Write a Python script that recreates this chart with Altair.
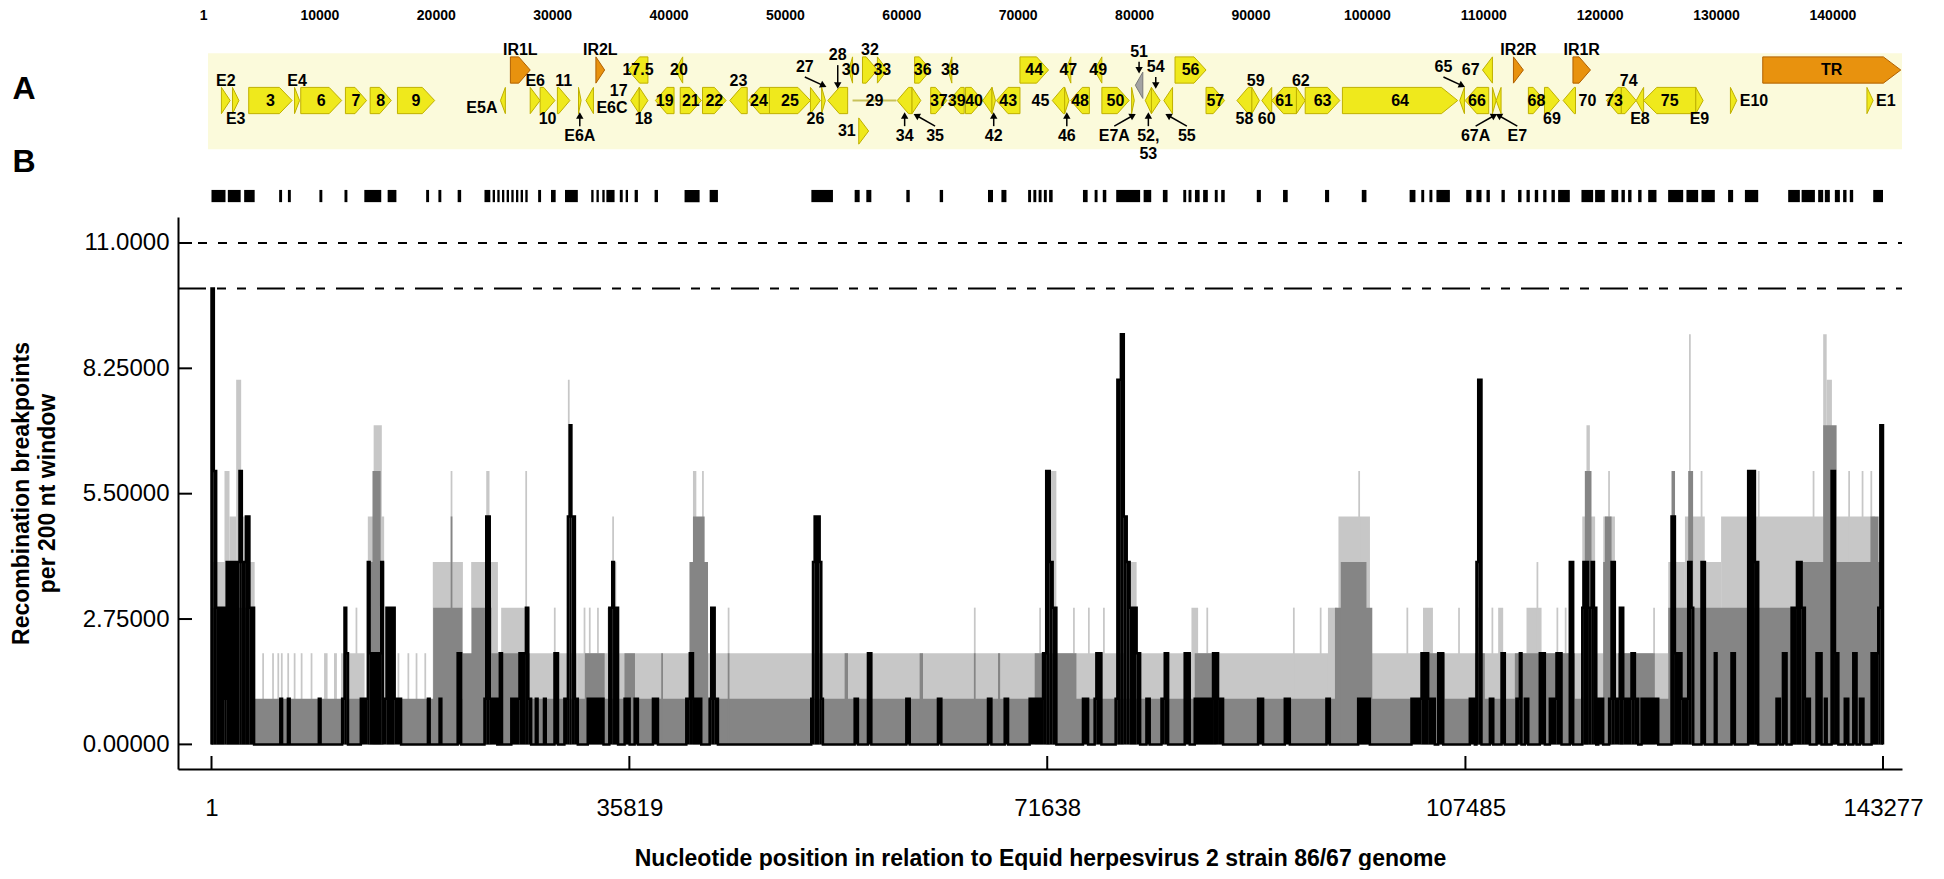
import math
import altair as alt
import pandas as pd

# ------------------------------------------------------------------ data
GENOME_LEN = 143277
TOP_TICKS = [1, 10000, 20000, 30000, 40000, 50000, 60000, 70000, 80000,
             90000, 100000, 110000, 120000, 130000, 140000]
X_TICKS = [1, 35819, 71638, 107485, 143277]
Y_TICKS = [0, 2.75, 5.5, 8.25, 11]
HOTSPOT_99 = 11.0
HOTSPOT_95 = 10.0
X_TITLE = "Nucleotide position in relation to Equid herpesvirus 2 strain 86/67 genome"
Y_TITLE = ["Recombination breakpoints", "per 200 nt window"]

# genes: (name, start, end, strand, kind, label placement)
GENES_UPPER = [
    ("IR1L", 25620, 27320, 1, "ir", "above"),
    ("IR2L", 32950, 33700, 1, "ir", "above"),
    ("17.5", 35710, 37410, -1, "orf", "in"),
    ("20", 39750, 40390, -1, "orf", "in"),
    ("30", 54630, 54950, -1, "orf", "in"),
    ("32", 55800, 57080, 1, "orf", "above"),
    ("33", 57080, 57930, 1, "orf", "in"),
    ("36", 60270, 61650, 1, "orf", "in"),
    ("38", 63140, 63460, -1, "orf", "in"),
    ("44", 69300, 71750, 1, "orf", "in"),
    ("47", 73230, 73660, -1, "orf", "in"),
    ("49", 75680, 76320, -1, "orf", "in"),
    ("56", 82590, 85250, 1, "orf", "in"),
    ("67", 108950, 109800, -1, "orf", "left"),
    ("IR2R", 111600, 112450, 1, "ir", "above"),
    ("IR1R", 116700, 118200, 1, "ir", "above"),
    ("TR", 132970, 144800, 1, "ir", "in"),
]
GENES_BETWEEN = [
    ("51", 79190, 79830, -1, "grey", "above_arrow"),
]
GENES_MIDDLE = [
    ("E2", 850, 1600, 1, "orf", "above"),
    ("E3", 1800, 2350, 1, "orf", "below"),
    ("3", 3190, 6910, 1, "orf", "in"),
    ("E4", 7120, 7550, 1, "orf", "above"),
    ("6", 7650, 11160, 1, "orf", "in"),
    ("7", 11480, 13290, 1, "orf", "in"),
    ("8", 13600, 15410, 1, "orf", "in"),
    ("9", 15940, 19130, 1, "orf", "in"),
    ("E5A", 24770, 25190, -1, "orf", "left_"),
    ("E6", 27320, 28170, 1, "orf", "above"),
    ("10", 28170, 29440, 1, "orf", "below"),
    ("11", 29650, 30720, 1, "orf", "above"),
    ("E6A", 31460, 31680, 1, "orf", "below_arrow"),
    ("E6C", 32100, 32740, -1, "orf", "right_"),
    ("17", 35930, 36670, -1, "orf", "left^"),
    ("18", 36670, 37410, 1, "orf", "below"),
    ("19", 38050, 39650, -1, "orf", "in"),
    ("21", 40180, 41990, 1, "orf", "in"),
    ("22", 42090, 44110, 1, "orf", "in"),
    ("23", 44430, 45920, -1, "orf", "above"),
    ("24", 46020, 47830, -1, "orf", "in"),
    ("25", 47830, 51340, 1, "orf", "in"),
    ("26", 51340, 52190, 1, "orf", "below"),
    ("27", 52300, 52620, 1, "orf", "above_arrow<"),
    ("28", 52830, 54530, -1, "orf", "above_arrow^"),
    ("29", 54950, 58700, -1, "thin", "in"),
    ("34", 58780, 60050, -1, "orf", "below_arrow"),
    ("35", 60050, 60800, 1, "orf", "below_arrow>"),
    ("37", 61650, 63030, 1, "orf", "in"),
    ("39", 63240, 64520, -1, "orf", "in"),
    ("40", 64630, 66110, 1, "orf", "in"),
    ("41", 66110, 66900, -1, "orf", "none"),
    ("42", 66900, 67200, 1, "orf", "below_arrow"),
    ("43", 67280, 69300, -1, "orf", "in"),
    ("45", 72070, 73130, -1, "orf", "left"),
    ("46", 73130, 73500, 1, "orf", "below_arrow"),
    ("48", 73660, 75250, -1, "orf", "in"),
    ("50", 76320, 78660, 1, "orf", "in"),
    ("E7A", 78870, 79100, 1, "orf", "below_arrow<"),
    ("52,\n53", 80040, 80570, -1, "orf", "below_arrow"),
    ("54", 80570, 81310, 1, "orf", "above_arrow"),
    ("55", 81630, 82380, -1, "orf", "below_arrow>"),
    ("57", 85250, 86840, 1, "orf", "in"),
    ("58", 87900, 89180, -1, "orf", "below"),
    ("59", 89180, 89820, 1, "orf", "above"),
    ("60", 90030, 90880, -1, "orf", "below"),
    ("61", 90880, 93000, -1, "orf", "in"),
    ("62", 93000, 93750, 1, "orf", "above"),
    ("63", 93750, 96720, 1, "orf", "in"),
    ("64", 96940, 106820, 1, "orf", "in"),
    ("65", 107000, 107400, -1, "orf", "above_arrow<"),
    ("66", 107460, 109480, -1, "orf", "in"),
    ("67A", 109800, 110120, 1, "orf", "below_arrow<"),
    ("E7", 110120, 110540, -1, "orf", "below_arrow>"),
    ("68", 112880, 114260, 1, "orf", "in"),
    ("69", 114260, 115540, 1, "orf", "below"),
    ("70", 115860, 116920, -1, "orf", "right"),
    ("73", 119580, 120850, -1, "orf", "in"),
    ("74", 120850, 122120, 1, "orf", "above"),
    ("E8", 122120, 122760, -1, "orf", "below"),
    ("75", 122760, 127230, -1, "orf", "in"),
    ("E9", 127230, 127860, 1, "orf", "below"),
    ("E10", 130200, 130740, 1, "orf", "right"),
    ("E1", 141900, 142430, 1, "orf", "right"),
]
GENES_LOWER = [
    ("31", 55480, 56330, 1, "orf", "left"),
]

# breakpoint marks above the plot (start, end)
BREAKPOINT_MARKS = [
    (0, 1200), (1400, 2500), (2800, 3700), (5800, 6050), (6550, 6800), (9250, 9500),
    (11400, 11650), (13100, 14550), (15100, 15850), (18400, 18650), (19450, 19700),
    (21100, 21400), (23400, 23900), (24100, 24300), (24500, 24700), (24900, 25100),
    (25300, 25500), (25700, 25900), (26100, 26300), (26500, 26700), (26900, 27100),
    (28000, 28250), (29100, 29500), (30300, 31400), (32550, 32750), (33000, 33200),
    (33500, 33700), (33850, 34550), (35000, 35250), (35500, 35700), (36270, 36550),
    (37980, 38270), (40550, 41840), (42700, 43410), (51420, 53270), (55130, 55560),
    (56130, 56560), (59560, 59850), (62420, 62710), (66560, 66990), (67710, 68140),
    (70000, 70250), (70450, 70700), (70900, 71150), (71350, 71600), (71800, 72100),
    (74700, 75100), (75700, 75950), (76400, 76700), (77550, 79600), (79900, 80550),
    (81550, 81950), (83300, 83550), (83750, 84000), (84300, 84700), (85000, 85400),
    (86000, 86250), (86550, 86850), (89600, 89950), (91850, 92250), (95450, 95800),
    (98600, 99000), (102700, 103200), (103700, 103950), (104400, 104650), (105000, 106150),
    (107550, 108000), (108430, 108860), (109290, 109575), (110575, 110860), (112000, 112290),
    (112720, 113000), (113430, 113720), (114150, 114430), (114860, 115150), (115430, 116430),
    (117430, 118430), (118600, 119430), (120000, 120580), (120860, 121150), (121430, 121720),
    (122290, 122580), (123150, 123860), (124860, 126150), (126430, 127430), (127720, 128860),
    (130000, 130430), (131440, 132580), (135150, 136150), (136300, 137440), (137720, 138150),
    (138290, 138720), (139150, 139580), (139860, 140150), (140430, 140720), (142440, 143277),
]

# 99% interval (light grey): (start, end, breakpoints per window)
LIGHT_SEGMENTS = [
    (1, 3700, 4), (1114, 1543, 6), (1543, 2115, 5), (2115, 2543, 8), (2543, 3258, 5),
    (4350, 4500, 2), (5200, 5350, 2), (5650, 5800, 2), (5950, 6100, 2), (6500, 6650, 2),
    (7050, 7200, 2), (7650, 7800, 2), (8500, 8650, 2), (9650, 9950, 2), (10500, 10750, 2),
    (11100, 13120, 2), (12350, 12500, 3), (13400, 14800, 5), (13900, 14600, 7),
    (15950, 16100, 2), (16800, 16950, 2), (17500, 17650, 2), (18250, 18400, 2),
    (18970, 21550, 4), (20500, 20650, 6), (22260, 24550, 4), (23550, 23830, 6),
    (24830, 27260, 3), (26900, 27050, 6), (27260, 31400, 2), (29350, 29500, 3),
    (30550, 30700, 8), (31400, 124870, 2),
    (31900, 32050, 3), (32350, 32500, 3), (33050, 33200, 3), (33950, 34270, 3),
    (34350, 34500, 5), (34553, 34700, 4),
    (40980, 42560, 4), (41270, 41560, 6), (42050, 42200, 6), (44250, 44400, 3),
    (65350, 65500, 3), (70950, 71100, 3),
    (71700, 72420, 6), (73850, 74000, 3), (75130, 75280, 3), (76420, 76570, 3),
    (78300, 79300, 4), (84000, 84570, 3), (85280, 85430, 3), (92700, 92850, 3),
    (95000, 95150, 3), (95700, 96500, 3), (96600, 99300, 5), (98300, 98450, 6),
    (102430, 102580, 3), (103850, 104700, 3),
    (106860, 107010, 3), (108580, 108860, 3), (109720, 109870, 3), (110290, 110720, 3),
    (112720, 114010, 3), (113580, 113730, 4), (115290, 115440, 3), (116000, 116150, 3),
    (117500, 118600, 5), (117860, 118150, 7), (119300, 120300, 5), (119720, 119870, 6),
    (123580, 123730, 3),
    (124870, 126300, 4), (126300, 128000, 5), (128000, 129400, 4), (129400, 142600, 5),
    (142600, 143277, 4), (125300, 125450, 6), (126650, 126800, 9), (127650, 127800, 6),
    (132550, 132700, 6), (137250, 137400, 6), (138150, 138450, 9), (138450, 138900, 8),
    (140300, 140450, 6), (141450, 141600, 6), (142200, 142350, 6),
]

# 95% interval (mid grey)
MEDIUM_SEGMENTS = [
    (1, 143277, 1), (1, 3700, 3), (11400, 11700, 2), (13400, 14800, 4), (13800, 14500, 6),
    (19000, 21500, 3), (20500, 20650, 5), (21500, 24600, 2), (22300, 24000, 3),
    (24800, 27300, 2), (32000, 33700, 2), (35400, 36300, 2), (38550, 38700, 2),
    (40980, 42560, 4), (41270, 42270, 5), (42840, 43130, 2), (44250, 44400, 2),
    (54270, 54560, 2), (60700, 60990, 2), (65350, 65500, 2), (67420, 67600, 2),
    (70564, 74140, 2), (84280, 86140, 2), (96300, 99500, 3), (96800, 99000, 4),
    (103700, 105700, 2), (108300, 109150, 2), (111720, 116860, 2), (117580, 118580, 4),
    (117720, 118290, 6), (119290, 120150, 4), (119440, 120010, 5), (120580, 123720, 2),
    (124870, 143277, 3), (125150, 125450, 6), (126580, 127000, 6), (136300, 143277, 4),
    (138150, 139300, 7), (142200, 142900, 5),
]

# observed breakpoints (black)
BLACK_SEGMENTS = [
    (1, 200, 10), (200, 400, 6), (400, 1100, 3), (1100, 1300, 1), (1300, 2400, 4),
    (2400, 2600, 6), (2600, 2950, 4), (2950, 3250, 5), (3250, 3650, 3),
    (5900, 6050, 1), (6550, 6700, 1), (9200, 9350, 1), (11200, 11400, 1), (11400, 11550, 3),
    (11550, 11700, 2), (12800, 13400, 1), (13400, 13550, 4), (13550, 14550, 2),
    (14550, 14700, 4), (14700, 15000, 1), (15000, 15700, 3), (15700, 16250, 1),
    (18550, 18700, 1), (19550, 19700, 1), (21100, 21400, 2),
    (23400, 23550, 1), (23550, 23850, 5), (23850, 24500, 1), (24700, 24900, 2),
    (25700, 26400, 1), (26400, 26950, 2), (26950, 27150, 3), (27150, 27400, 1),
    (27800, 27950, 1), (28500, 28650, 1), (29400, 29700, 2),
    (30250, 30550, 1), (30550, 30700, 5), (30700, 30850, 7), (30850, 31150, 5),
    (31150, 31400, 1), (32250, 33600, 1), (34100, 34350, 3), (34350, 34500, 4),
    (34500, 34850, 3), (35410, 35840, 1), (36270, 36550, 1), (37840, 38270, 1),
    (40700, 41000, 1), (41000, 41270, 2), (41270, 41980, 1), (42700, 42840, 1),
    (42840, 43130, 3), (43130, 43410, 1), (51410, 51560, 1), (51560, 51700, 4),
    (51700, 52130, 5), (52130, 52270, 4), (52270, 52410, 1), (55130, 55410, 1),
    (56270, 56560, 2), (59560, 59850, 1), (62270, 62560, 1), (66560, 66850, 1),
    (67990, 68280, 1), (70130, 71280, 1), (71280, 71550, 2), (71550, 71850, 6),
    (71850, 72100, 4), (72100, 72420, 3), (74700, 75140, 1), (75700, 75850, 1),
    (75850, 76280, 2), (77500, 77650, 1), (77650, 77950, 8), (77950, 78200, 9),
    (78200, 78450, 5), (78450, 78700, 4), (78700, 79300, 3), (79300, 79600, 2),
    (80140, 80420, 1), (81430, 81710, 1), (81710, 82000, 2), (83420, 83850, 2),
    (84280, 85850, 1), (85850, 86280, 2), (86280, 86710, 1), (89710, 90140, 1),
    (92000, 92430, 1), (95570, 95860, 1), (98290, 99290, 1), (102860, 103720, 1),
    (103720, 104290, 2), (104290, 104860, 1), (105150, 105580, 2),
    (107860, 108290, 1), (108430, 108580, 4), (108580, 108860, 8), (109580, 109870, 1),
    (110580, 110860, 2), (111860, 112150, 1), (112150, 112290, 2), (112580, 112870, 1),
    (113860, 114290, 2), (114720, 115290, 1), (115290, 115720, 2), (116430, 116720, 4),
    (117500, 117600, 3), (117600, 118000, 4), (118000, 118300, 3), (118300, 118500, 4),
    (118500, 118700, 3), (118870, 119290, 1), (119800, 120010, 1), (120010, 120290, 4),
    (120290, 120720, 1), (120720, 121010, 3), (121010, 121720, 1), (121720, 122010, 2),
    (122010, 122300, 1), (122580, 124010, 1), (125150, 125440, 5), (125440, 126000, 2),
    (126000, 126580, 1), (126580, 126860, 4), (126860, 127010, 3), (127720, 128010, 4),
    (128860, 129010, 2), (130290, 130580, 2), (131720, 132300, 6), (132300, 132580, 4),
    (134150, 134440, 1), (134700, 135010, 2), (135440, 135900, 3), (135900, 136300, 4),
    (136300, 136580, 3), (136580, 137010, 1), (137580, 138010, 2), (138300, 138450, 1),
    (138870, 139160, 6), (139160, 139450, 2), (140000, 140300, 1), (140730, 141010, 2),
    (141300, 141600, 1), (142300, 142870, 2), (142870, 143050, 3), (143050, 143277, 7),
]

# ------------------------------------------------------------------ layout / style
W = 1724
H_MAIN = 552
H_MAP = 192
X_DOMAIN = [-2871, 144906]
TOP_DOMAIN = [-2149, 145982]
Y_DOMAIN = [-0.54, 11.57]
ROW_DOMAIN = [-0.475, 5.817]
GENEMAP_SPAN = (-300, 144906)
GENEMAP_ROWS = (0.45, 3.6)
TICKBAR_ROWS = (4.93, 5.33)
HALF_H = 0.43
ARROW_SHIFT = 1600

SANS = "'Liberation Sans', Arial, sans-serif"
LIGHT = "#c7c7c7"
MEDIUM = "#858585"
KIND_DOMAIN = ["orf", "ir", "grey"]
KIND_FILL = ["#efe91c", "#e8920e", "#a3a3a3"]
KIND_STROKE = ["#bfb000", "#b06000", "#7a7a7a"]

PX_PER_NT = W / (X_DOMAIN[1] - X_DOMAIN[0])
PX_PER_ROW = H_MAP / (ROW_DOMAIN[1] - ROW_DOMAIN[0])

# ------------------------------------------------------------------ build tables
poly_rows, thin_rows, label_rows, arrow_rows = [], [], [], []
for row, genes in ((1, GENES_UPPER), (1.5, GENES_BETWEEN), (2, GENES_MIDDLE), (3, GENES_LOWER)):
    for name, s, e, strand, kind, pos in genes:
        gid = f"{name}_{s}"
        length = e - s
        cx = (s + e) / 2
        if kind == "thin":
            thin_rows.append({"s": s, "e": e, "row": row})
        else:
            head = min(length, 900 + 0.05 * length)
            top, bot = row - HALF_H, row + HALF_H
            if strand > 0:
                pts = [(s, top, bot)]
                if head < length:
                    pts.append((e - head, top, bot))
                pts.append((e, row, row))
            else:
                pts = [(s, row, row)]
                if head < length:
                    pts.append((s + head, top, bot))
                pts.append((e, top, bot))
            for x, y, y2 in pts:
                poly_rows.append({"gid": gid, "kind": kind, "x": x, "y": y, "y2": y2})
        base = pos.rstrip("<>^_")
        mods = pos[len(base):]
        if base == "none":
            continue
        shift = -ARROW_SHIFT if "<" in mods else (ARROW_SHIFT if ">" in mods else 0)
        dy = (-0.3 if "^" in mods else 0.0) + (0.25 if "_" in mods else 0.0)
        align = "center"
        lx, ly = cx, row + dy
        if base == "above":
            ly = row - 0.64 + dy
        elif base == "below":
            ly = row + 0.62 + dy
        elif base == "left":
            lx, align = s, "right"
        elif base == "right":
            lx, align = e, "left"
        elif base in ("above_arrow", "below_arrow"):
            lx = cx + shift
            if base == "above_arrow":
                ly = row - 1.1 + 1.3 * dy
                ay, ty = ly + 0.33, row - 0.49
            else:
                ly = row + 1.17
                ay, ty = ly - 0.33, row + 0.49
            ddx = (cx - lx) * PX_PER_NT
            ddy = (ty - ay) * PX_PER_ROW
            ang = math.degrees(math.atan2(ddx, -ddy)) % 360
            arrow_rows.append({"x1": lx, "y1": ay, "x2": cx, "y2": ty, "ang": ang})
        label_rows.append({"name": name, "lx": lx, "ly": ly, "align": align})

poly_df = pd.DataFrame(poly_rows)
thin_df = pd.DataFrame(thin_rows)
label_df = pd.DataFrame(label_rows)
arrow_df = pd.DataFrame(arrow_rows)
marks_df = pd.DataFrame(BREAKPOINT_MARKS, columns=["s", "e"])
light_df = pd.DataFrame(LIGHT_SEGMENTS, columns=["s", "e", "v"])
medium_df = pd.DataFrame(MEDIUM_SEGMENTS, columns=["s", "e", "v"])
black_df = pd.DataFrame(sorted(BLACK_SEGMENTS), columns=["s", "e", "v"])

# step outline of the observed counts
pts = [(1, 0)]
last_end = 1
for s, e, v in sorted(BLACK_SEGMENTS):
    s = max(s, 1)
    if s > last_end:
        pts.append((last_end, 0))
    pts.append((s, v))
    last_end = e
pts.append((last_end, 0))
if last_end < GENOME_LEN:
    pts.append((GENOME_LEN, 0))
step_df = pd.DataFrame(pts, columns=["x", "y"])
step_df["i"] = range(len(step_df))

# ------------------------------------------------------------------ panel A
xs = alt.Scale(domain=X_DOMAIN, nice=False, zero=False)
rs = alt.Scale(domain=ROW_DOMAIN, nice=False, zero=False, reverse=True)

bg = alt.Chart(pd.DataFrame({"s": [GENEMAP_SPAN[0]], "e": [GENEMAP_SPAN[1]],
                             "r1": [GENEMAP_ROWS[0]], "r2": [GENEMAP_ROWS[1]]})).mark_rect(
    color="#fbfadb").encode(
    x=alt.X("s:Q", scale=xs, axis=None), x2="e:Q",
    y=alt.Y("r1:Q", scale=rs, axis=None), y2="r2:Q")

genes = alt.Chart(poly_df).mark_area(interpolate="linear", strokeWidth=1).encode(
    x=alt.X("x:Q", scale=xs, axis=None),
    y=alt.Y("y:Q", scale=rs, axis=None, stack=None), y2="y2:Q",
    detail="gid:N",
    fill=alt.Fill("kind:N", scale=alt.Scale(domain=KIND_DOMAIN, range=KIND_FILL), legend=None),
    stroke=alt.Stroke("kind:N", scale=alt.Scale(domain=KIND_DOMAIN, range=KIND_STROKE), legend=None),
)

thin = alt.Chart(thin_df).mark_rule(color="#c9c25a", strokeWidth=2).encode(
    x=alt.X("s:Q", scale=xs, axis=None), x2="e:Q",
    y=alt.Y("row:Q", scale=rs, axis=None))


def label_layer(align, dx):
    return alt.Chart(label_df).transform_filter(alt.datum.align == align).mark_text(
        font=SANS, fontSize=16, fontWeight="bold", color="black", align=align,
        baseline="middle", dx=dx, lineBreak="\n").encode(
        x=alt.X("lx:Q", scale=xs, axis=None),
        y=alt.Y("ly:Q", scale=rs, axis=None),
        text="name:N")


arrow_lines = alt.Chart(arrow_df).mark_rule(color="black", strokeWidth=1.5).encode(
    x=alt.X("x1:Q", scale=xs, axis=None), x2="x2:Q",
    y=alt.Y("y1:Q", scale=rs, axis=None), y2="y2:Q")
arrow_heads = alt.Chart(arrow_df).mark_point(shape="triangle-up", filled=True, size=55,
                                             color="black", opacity=1).encode(
    x=alt.X("x2:Q", scale=xs, axis=None),
    y=alt.Y("y2:Q", scale=rs, axis=None),
    angle=alt.Angle("ang:Q", scale=None))

tickbar = alt.Chart(marks_df.assign(r1=TICKBAR_ROWS[0], r2=TICKBAR_ROWS[1])).mark_rect(
    color="black").encode(
    x=alt.X("s:Q", scale=xs, axis=None), x2="e:Q",
    y=alt.Y("r1:Q", scale=rs, axis=None), y2="r2:Q")

panel_a = alt.Chart(pd.DataFrame({"t": ["A"]})).mark_text(
    font=SANS, fontSize=32, fontWeight="bold", color="black").encode(
    text="t:N", x=alt.value(-154), y=alt.value(64))
panel_b = alt.Chart(pd.DataFrame({"t": ["B"]})).mark_text(
    font=SANS, fontSize=32, fontWeight="bold", color="black").encode(
    text="t:N", x=alt.value(-154), y=alt.value(137))

top_axis = alt.Chart(pd.DataFrame({"v": TOP_TICKS})).mark_point(opacity=0).encode(
    x=alt.X("v:Q", scale=alt.Scale(domain=TOP_DOMAIN, nice=False, zero=False),
            axis=alt.Axis(orient="top", values=TOP_TICKS, format="d", ticks=False,
                          domain=False, grid=False, labelFont=SANS, labelFontSize=14,
                          labelFontWeight="bold", labelColor="black", labelPadding=3,
                          labelFlush=False, labelOverlap=False, title=None)),
    y=alt.value(0))

chart_a = alt.layer(
    bg, genes, thin, label_layer("center", 0), label_layer("right", -3),
    label_layer("left", 3), arrow_lines, arrow_heads, tickbar, panel_a, panel_b, top_axis
).resolve_scale(x="independent").properties(width=W, height=H_MAP)

# ------------------------------------------------------------------ panel B
ys = alt.Scale(domain=Y_DOMAIN, nice=False, zero=False)

x_axis = alt.Axis(values=X_TICKS, format="d", title=X_TITLE, ticks=False, grid=False,
                  domain=True, domainColor="black", domainWidth=2, labelFont=SANS,
                  labelFontSize=24, labelColor="black", labelPadding=27, labelFlush=False,
                  labelOverlap=False, titleFont=SANS, titleFontSize=23,
                  titleFontWeight="bold", titleColor="black", titlePadding=27)
y_axis = alt.Axis(values=Y_TICKS, title=Y_TITLE, ticks=False, grid=False, domain=True,
                  labelExpr="datum.value == 11 ? '11.0000' : format(datum.value, '.5f')",
                  domainColor="black", domainWidth=2, labelFont=SANS, labelFontSize=24,
                  labelColor="black", labelPadding=9, labelFlush=False, labelOverlap=False,
                  titleFont=SANS, titleFontSize=23, titleFontWeight="bold",
                  titleColor="black", titlePadding=23, titleLineHeight=26)

light = alt.Chart(light_df).mark_rect(color=LIGHT).encode(
    x=alt.X("s:Q", scale=xs, axis=x_axis), x2="e:Q",
    y=alt.Y("v:Q", scale=ys, axis=y_axis), y2=alt.datum(0))
medium = alt.Chart(medium_df).mark_rect(color=MEDIUM).encode(
    x=alt.X("s:Q", scale=xs, axis=x_axis), x2="e:Q",
    y=alt.Y("v:Q", scale=ys, axis=y_axis), y2=alt.datum(0))
black_fill = alt.Chart(black_df).mark_rect(color="black").encode(
    x=alt.X("s:Q", scale=xs, axis=x_axis), x2="e:Q",
    y=alt.Y("v:Q", scale=ys, axis=y_axis), y2=alt.datum(0))
black_line = alt.Chart(step_df).mark_line(color="black", strokeWidth=2.5,
                                          interpolate="step-after").encode(
    x=alt.X("x:Q", scale=xs, axis=x_axis),
    y=alt.Y("y:Q", scale=ys, axis=y_axis),
    order="i:Q")

dash99 = alt.Chart(pd.DataFrame({"v": [HOTSPOT_99]})).mark_rule(
    color="black", strokeWidth=2, strokeDash=[9, 11]).encode(
    y=alt.Y("v:Q", scale=ys, axis=y_axis), x=alt.value(0), x2=alt.value(W))
dash95 = alt.Chart(pd.DataFrame({"v": [HOTSPOT_95]})).mark_rule(
    color="black", strokeWidth=2, strokeDash=[28, 11, 9, 11, 9, 11]).encode(
    y=alt.Y("v:Q", scale=ys, axis=y_axis), x=alt.value(0), x2=alt.value(W))

ystubs = alt.Chart(pd.DataFrame({"v": Y_TICKS})).mark_rule(color="black", strokeWidth=2).encode(
    y=alt.Y("v:Q", scale=ys, axis=y_axis), x=alt.value(0), x2=alt.value(14))
xstubs = alt.Chart(pd.DataFrame({"v": X_TICKS})).mark_rule(color="black", strokeWidth=2).encode(
    x=alt.X("v:Q", scale=xs, axis=x_axis), y=alt.value(H_MAIN), y2=alt.value(H_MAIN - 13))

chart_b = alt.layer(light, medium, black_fill, black_line, dash99, dash95, ystubs, xstubs
                    ).properties(width=W, height=H_MAIN)

chart = alt.vconcat(chart_a, chart_b, spacing=0, bounds="flush").properties(
    padding={"left": 2, "top": 0, "right": 0, "bottom": 0}
).configure_view(stroke=None)

chart.save("out.html", embed_options={"renderer": "svg", "actions": False})
